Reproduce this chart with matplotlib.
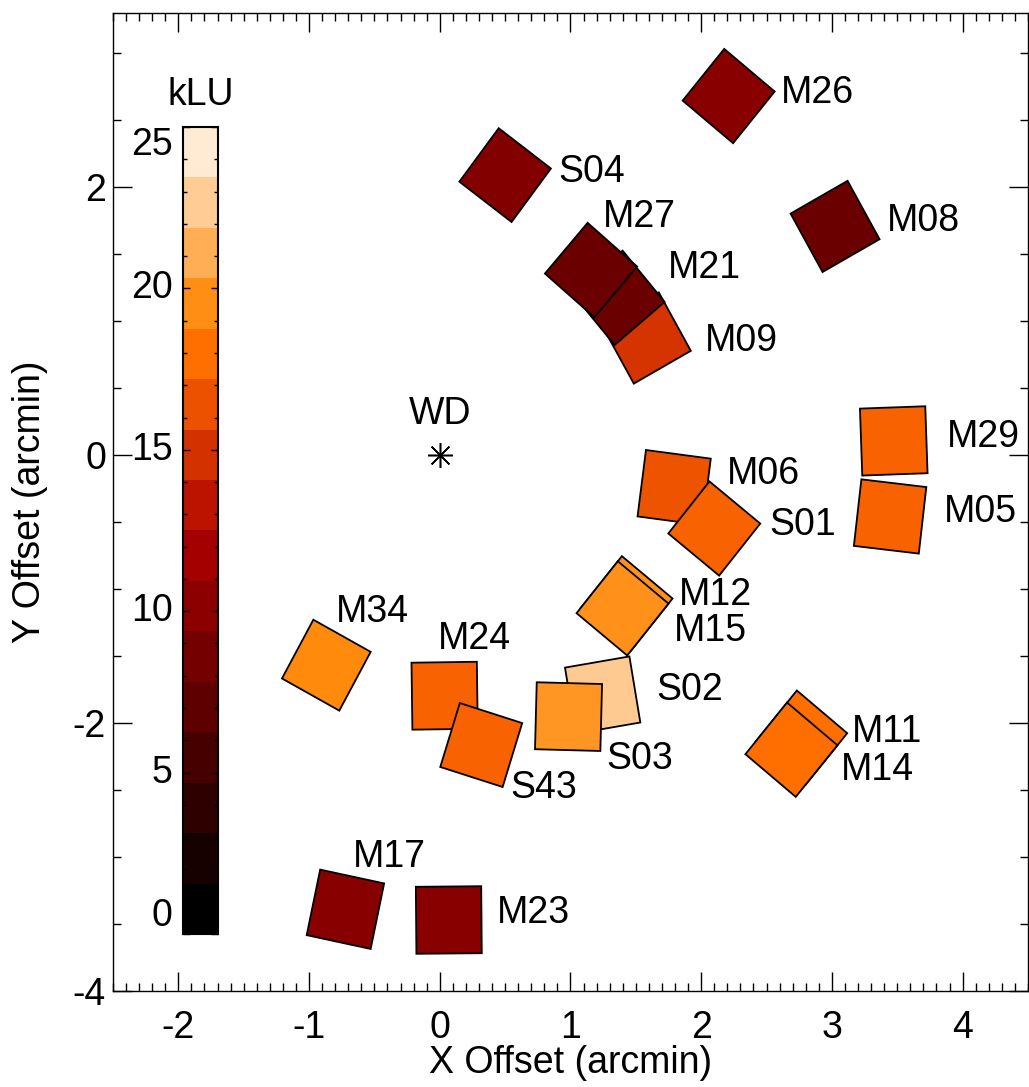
import numpy as np
import matplotlib
matplotlib.use('Agg')
import matplotlib.pyplot as plt
from matplotlib.patches import Rectangle
from matplotlib.colors import ListedColormap
from matplotlib.ticker import MultipleLocator

plt.rcParams['font.family'] = ['Liberation Sans', 'DejaVu Sans']
plt.rcParams['axes.unicode_minus'] = False

# detectors, drawn in this order (later ones on top)
names = ['M09', 'M21', 'M27', 'M06', 'S01', 'M12', 'M15', 'S02', 'S03', 'M24', 'S43',
         'M11', 'M14', 'M26', 'S04', 'M08', 'M29', 'M05', 'M34', 'M17', 'M23']
x_off = [1.580, 1.368, 1.157, 1.793, 2.100, 1.429, 1.398, 1.246, 0.985, 0.037, 0.317,
         2.765, 2.690, 2.210, 0.500, 3.024, 3.473, 3.445, -0.868, -0.722, 0.069]
y_off = [0.874, 1.174, 1.381, -0.242, -0.548, -1.106, -1.144, -1.791, -1.952, -1.796, -2.164,
         -2.109, -2.199, 2.680, 2.090, 1.707, 0.106, -0.458, -1.568, -3.390, -3.470]
pa = [29.3, 40.0, -40.8, -7.4, -39.0, 50.8, 50.8, 9.6, -1.5, 0.8, -17.4,
      50.4, 50.4, -39.5, -37.0, 29.3, 2.0, -6.6, -28.7, -11.9, 0.5]
klu = [14.4, 7.3, 7.3, 16.1, 16.8, 19.3, 19.3, 22.2, 19.5, 16.8, 16.8,
       17.5, 17.5, 9.2, 8.8, 7.3, 16.8, 16.8, 18.9, 9.2, 9.2]

# label offsets from detector centre (arcmin)
label_dx = {'M26': 0.40, 'S04': 0.41, 'M27': 0.09, 'M21': 0.38, 'M09': 0.45, 'M08': 0.40,
            'M29': 0.41, 'M06': 0.40, 'S01': 0.42, 'M05': 0.41, 'M12': 0.40, 'M15': 0.39,
            'M34': 0.07, 'M24': -0.05, 'S02': 0.41, 'M11': 0.39, 'M14': 0.38, 'S03': 0.29,
            'S43': 0.22, 'M17': 0.06, 'M23': 0.37}
label_dy = {'M26': 0.02, 'S04': 0.02, 'M27': 0.40, 'M21': 0.22, 'M09': -0.02, 'M08': 0.04,
            'M29': 0.03, 'M06': 0.10, 'S01': 0.03, 'M05': 0.03, 'M12': 0.06, 'M15': -0.17,
            'M34': 0.40, 'M24': 0.42, 'S02': 0.04, 'M11': 0.04, 'M14': -0.15, 'S03': -0.32,
            'S43': -0.32, 'M17': 0.39, 'M23': 0.05}

cb_levels = np.linspace(0, 25, 17)
side = 0.5

# IDL "red temperature" like table
i = np.arange(256)
r = np.clip(i * 255 / 176, 0, 255)
g = np.clip((i - 120) * 255 / 135, 0, 255)
b = np.clip((i - 190) * 255 / 65, 0, 255)
ct3 = ListedColormap(np.c_[r, g, b] / 255.0)

fig = plt.figure(figsize=(10.29, 10.87), dpi=100)
ax = fig.add_axes([113 / 1029, 96 / 1087, 915 / 1029, 978 / 1087])

for n, x, y, a, v in zip(names, x_off, y_off, pa, klu):
    sq = Rectangle((x - side / 2, y - side / 2), side, side, angle=a, rotation_point='center',
                   facecolor=ct3(v / 25.0), edgecolor='black', lw=1.3, zorder=2)
    ax.add_patch(sq)
for n, x, y in zip(names, x_off, y_off):
    ax.text(x + label_dx[n], y + label_dy[n], n, fontsize=27, ha='left', va='center', zorder=3)

ax.plot([0], [0], marker=(8, 2, 0), ms=18, mec='black', mew=1.1, color='black', ls='none')
ax.text(0, 0.31, 'WD', fontsize=27, ha='center', va='center')

ax.set_xlim(-2.5, 4.5)
ax.set_ylim(-4, 3.3)
ax.xaxis.set_major_locator(MultipleLocator(1))
ax.xaxis.set_minor_locator(MultipleLocator(0.1))
ax.yaxis.set_major_locator(MultipleLocator(2))
ax.yaxis.set_minor_locator(MultipleLocator(0.5))
ax.tick_params(which='both', direction='in', top=True, right=True, labelsize=27, width=1)
ax.tick_params(which='major', length=14)
ax.tick_params(which='minor', length=6)
ax.tick_params(axis='x', pad=14)
ax.tick_params(axis='y', pad=5)
for s in ax.spines.values():
    s.set_linewidth(1.0)
ax.set_xlabel('X Offset (arcmin)', fontsize=27, labelpad=-1)
ax.set_ylabel('Y Offset (arcmin)', fontsize=27, labelpad=18)

# colour bar
cax = fig.add_axes([183 / 1029, 153 / 1087, 35 / 1029, 807 / 1087])
band_cols = ct3(np.arange(16) * 244 / 15 / 255.0)
cax.pcolormesh([0, 1], cb_levels, np.arange(16).reshape(-1, 1),
               cmap=ListedColormap(band_cols), vmin=-0.5, vmax=15.5)
cax.set_xlim(0, 1)
cax.set_ylim(0, 25)
cax.set_xticks([])
cax.yaxis.set_major_locator(MultipleLocator(5))
cax.yaxis.set_minor_locator(MultipleLocator(1))
cax.tick_params(which='both', direction='in', left=True, right=True, labelleft=False, width=1)
cax.tick_params(which='major', length=5)
cax.tick_params(which='minor', length=3)
for s in cax.spines.values():
    s.set_linewidth(1.5)
for t in range(0, 26, 5):
    va = 'bottom' if t == 0 else ('top' if t == 25 else 'center')
    cax.text(-0.3, t, str(t), fontsize=27, ha='right', va=va,
             transform=cax.get_yaxis_transform())
cax.text(0.5, 1.04, 'kLU', fontsize=27, ha='center', va='center', transform=cax.transAxes)

fig.savefig('out.png', dpi=100)
